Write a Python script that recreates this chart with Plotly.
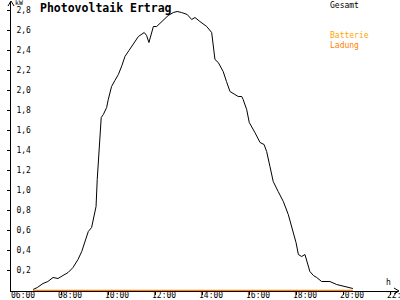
import plotly.graph_objects as go

# Data (hours of day, kW)
hours = [6.77, 6.95, 7.19, 7.40, 7.62, 7.83, 8.04, 8.26, 8.47, 8.68, 8.84, 8.98, 9.12, 9.26,
         9.33, 9.45, 9.50, 9.56, 9.62, 9.67, 9.76, 9.90, 9.97, 10.11, 10.25, 10.40, 10.55,
         10.68, 10.85, 11.03, 11.25, 11.50, 11.60, 11.70, 11.80, 11.89, 12.03, 12.17, 12.31,
         12.52, 12.74, 12.90, 13.09, 13.33, 13.52, 13.66, 13.87, 14.16, 14.37, 14.44, 14.51,
         14.65, 14.86, 15.00, 15.15, 15.36, 15.50, 15.65, 15.71, 15.86, 15.97, 16.21, 16.43,
         16.60, 16.71, 16.85, 16.99, 17.20, 17.42, 17.63, 17.82, 17.96, 18.06, 18.20, 18.34,
         18.41, 18.55, 18.70, 18.84, 19.05, 19.40, 19.69, 19.90, 20.11, 20.38]
gesamt = [0.01, 0.03, 0.07, 0.09, 0.13, 0.12, 0.15, 0.18, 0.23, 0.31, 0.39, 0.49, 0.59, 0.63,
          0.71, 0.84, 1.11, 1.31, 1.51, 1.73, 1.76, 1.83, 1.91, 2.04, 2.10, 2.16, 2.25,
          2.34, 2.40, 2.46, 2.54, 2.58, 2.55, 2.48, 2.57, 2.64, 2.64, 2.67, 2.71,
          2.75, 2.78, 2.79, 2.78, 2.76, 2.71, 2.73, 2.69, 2.64, 2.58, 2.45, 2.31,
          2.28, 2.19, 2.09, 1.99, 1.96, 1.94, 1.94, 1.91, 1.81, 1.68, 1.58, 1.48,
          1.46, 1.39, 1.24, 1.09, 0.99, 0.89, 0.76, 0.61, 0.48, 0.36, 0.34, 0.36,
          0.31, 0.19, 0.15, 0.13, 0.09, 0.09, 0.06, 0.05, 0.04, 0.02]
ladung = [0.0] * len(hours)

xtick_vals = [6, 8, 10, 12, 14, 16, 18, 20, 22]
xtick_text = ["06:00", "08:00", "10:00", "12:00", "14:00", "16:00", "18:00", "20:00", "22:00"]
ytick_vals = [0.2, 0.4, 0.6, 0.8, 1.0, 1.2, 1.4, 1.6, 1.8, 2.0, 2.2, 2.4, 2.6, 2.8]
ytick_text = ["0,2", "0,4", "0,6", "0,8", "1,0", "1,2", "1,4", "1,6", "1,8", "2,0",
              "2,2", "2,4", "2,6", "2,8"]

XR = [5.83, 22.30]
YR = [-0.005, 2.885]
FONT = "DejaVu Sans Mono"
L, R, T, B = 11, 2, 2, 9
W, H = 400, 300
PW, PH = W - L - R, H - T - B

fig = go.Figure()
fig.add_trace(go.Scatter(x=hours, y=gesamt, mode="lines",
                         line=dict(color="black", width=1), name="Gesamt"))
fig.add_trace(go.Scatter(x=hours, y=ladung, mode="lines",
                         line=dict(color="#FF8000", width=1.5), name="Ladung"))

fig.update_layout(
    width=W, height=H,
    margin=dict(l=L, r=R, t=T, b=B, autoexpand=False),
    paper_bgcolor="white", plot_bgcolor="white",
    showlegend=False,
    font=dict(family=FONT, size=8, color="black"),
    xaxis=dict(range=XR, showgrid=False, zeroline=False, showline=True, automargin=False,
               linecolor="black", linewidth=1, ticks="outside", ticklen=3,
               tickcolor="black", tickvals=xtick_vals, showticklabels=False),
    yaxis=dict(range=YR, showgrid=False, zeroline=False, showline=True, automargin=False,
               linecolor="black", linewidth=1, ticks="outside", ticklen=3,
               tickcolor="black", tickvals=ytick_vals, ticktext=ytick_text,
               ticklabelposition="inside", ticklabelstandoff=4,
               tickfont=dict(family=FONT, size=8, color="black")),
    xaxis2=dict(range=XR, overlaying="x", showgrid=False, zeroline=False, automargin=False,
                showline=False, ticks="inside", ticklen=4, tickcolor="black",
                tickvals=xtick_vals, showticklabels=False),
    yaxis2=dict(range=YR, overlaying="y", showgrid=False, zeroline=False, automargin=False,
                showline=False, ticks="inside", ticklen=3, tickcolor="black",
                tickvals=ytick_vals, showticklabels=False),
)


def px2paper(px, py):
    return (px - L) / PW, (H - B - py) / PH


# x tick labels (left-shifted start, like the reference)
for v, t in zip(xtick_vals, xtick_text):
    fig.add_annotation(text=t, x=v, xref="x", y=px2paper(0, 295.5)[1], yref="paper",
                       showarrow=False, xanchor="left", yanchor="middle", xshift=-5,
                       borderpad=0, font=dict(family=FONT, size=8, color="black"))

# axis arrows
x0, y0 = px2paper(8, 6)
x1, y1 = px2paper(11, 1)
x2, _ = px2paper(14, 6)
fig.add_shape(type="path", xref="paper", yref="paper",
              path=f"M {x0},{y0} L {x1},{y1} L {x2},{y0}",
              line=dict(color="black", width=1))
ax0, ay0 = px2paper(394, 288)
ax1, ay1 = px2paper(399, 291)
_, ay2 = px2paper(394, 294)
fig.add_shape(type="path", xref="paper", yref="paper",
              path=f"M {ax0},{ay0} L {ax1},{ay1} L {ax0},{ay2}",
              line=dict(color="black", width=1))

ann = [
    ("<b>Photovoltaik Ertrag</b>", 39, 8, 11.5),
    ("kW", 14, 3, 6.5),
    ("Gesamt", 329, 5, 8),
    ("<span style='color:#FFA500'>Batterie</span><br><span style='color:#FF8000'>Ladung</span>", 329, 41, 8),
    ("h", 385, 282, 8),
]
for t, px, py, fs in ann:
    ax, ay = px2paper(px, py)
    fig.add_annotation(text=t, x=ax, y=ay, xref="paper", yref="paper",
                       showarrow=False, xanchor="left", yanchor="middle", align="left",
                       borderpad=0,
                       font=dict(family=FONT, size=fs, color="black"))

fig.write_html("out.html")
